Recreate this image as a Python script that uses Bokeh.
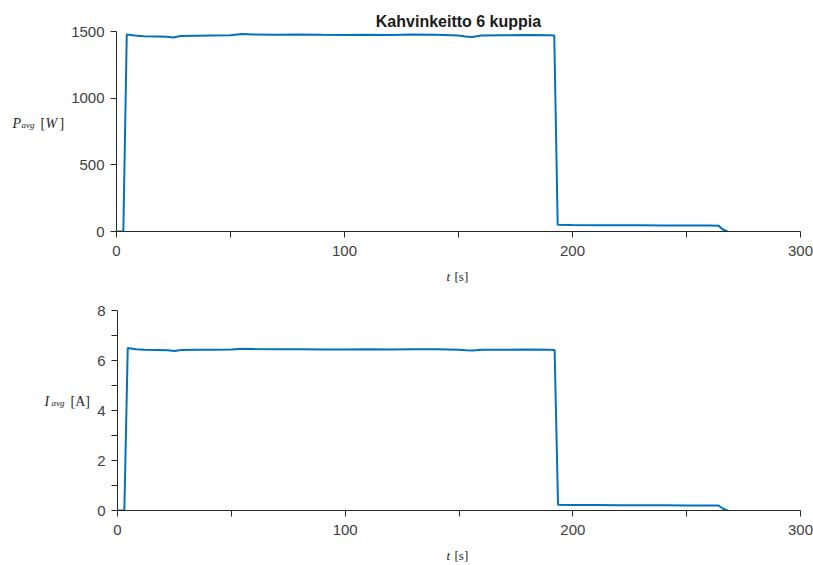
from bokeh.plotting import figure
from bokeh.models import Range1d, FixedTicker
from bokeh.layouts import column, row
from bokeh.core.properties import value
from bokeh.embed import file_html
from bokeh.resources import INLINE

# ---- data ----
t = [0, 3, 4.5, 8, 12, 18, 22, 25, 28, 35, 42, 50, 55, 60, 70, 80, 90, 100,
     110, 120, 130, 140, 150, 153, 156, 160, 170, 180, 190, 192, 193.5, 200,
     210, 220, 230, 240, 250, 260, 264, 266, 268]
P_avg = [0, 0, 1478, 1470, 1465, 1462, 1460, 1455, 1466, 1468, 1470, 1472,
         1482, 1478, 1476, 1478, 1475, 1474, 1476, 1474, 1477, 1476, 1470,
         1462, 1458, 1470, 1472, 1474, 1472, 1470, 50, 48, 47, 46, 46, 45,
         45, 45, 44, 15, 0]
I_avg = [0, 0, 6.50, 6.45, 6.43, 6.42, 6.41, 6.38, 6.42, 6.43, 6.43, 6.44,
         6.47, 6.46, 6.45, 6.45, 6.44, 6.44, 6.45, 6.44, 6.45, 6.45, 6.43,
         6.41, 6.40, 6.43, 6.43, 6.44, 6.43, 6.42, 0.23, 0.22, 0.22, 0.21,
         0.21, 0.21, 0.20, 0.20, 0.20, 0.07, 0]

x_ticks = [0, 100, 200, 300]
x_minor = [50, 150, 250]
p_ticks = [0, 500, 1000, 1500]
i_ticks = [0, 2, 4, 6, 8]
i_minor = [1, 3, 5, 7]

title_text = "Kahvinkeitto 6 kuppia"
BLUE = "#0072BD"
AX = "#262626"
TOTAL_W = 813
FRAME_LEFT = 116
FRAME_W = 684


def make_fig(left_w, height, top, bottom, ymax, yticks, yminor):
    w = TOTAL_W - left_w
    border_left = FRAME_LEFT - left_w
    p = figure(width=w, height=height, output_backend="svg", toolbar_location=None,
               x_range=Range1d(0, 300), y_range=Range1d(0, ymax),
               min_border_left=border_left, min_border_right=w - border_left - FRAME_W,
               min_border_top=top, min_border_bottom=bottom)
    p.outline_line_color = None
    p.xgrid.visible = False
    p.ygrid.visible = False
    p.xaxis.ticker = FixedTicker(ticks=x_ticks, minor_ticks=x_minor)
    p.yaxis.ticker = FixedTicker(ticks=yticks, minor_ticks=yminor)
    for ax in (p.xaxis[0], p.yaxis[0]):
        ax.axis_line_color = AX
        ax.major_tick_line_color = AX
        ax.minor_tick_line_color = AX
        ax.major_tick_in = 0
        ax.major_tick_out = 6
        ax.minor_tick_in = 0
        ax.minor_tick_out = 6
        ax.major_label_text_font = "Liberation Sans"
        ax.major_label_text_font_size = "15px"
        ax.major_label_text_color = "#404040"
    p.xaxis.major_label_standoff = 8
    p.yaxis.major_label_standoff = 6
    return p


def text_fig(width, height):
    f = figure(width=width, height=height, output_backend="svg", toolbar_location=None,
               x_range=Range1d(0, width), y_range=Range1d(0, height),
               x_axis_type=None, y_axis_type=None, min_border=0)
    f.outline_line_color = None
    f.xgrid.visible = False
    f.ygrid.visible = False
    return f


def put(f, x, y, txt, size="14px", style="italic"):
    f.text(x=[x], y=[y], text=[txt], text_font=value("Liberation Serif"),
           text_font_size=size, text_font_style=style, text_color=AX,
           text_align="left", text_baseline="alphabetic")


# ---------------- top panel ----------------
H1 = 262
L1 = 68
lab1 = text_fig(L1, H1)
base1 = H1 - 121
put(lab1, 12, base1, "P")
put(lab1, 21, base1 - 2, "avg", size="9px")
put(lab1, 40, base1, "[", style="normal")
put(lab1, 45, base1, "W")
put(lab1, 59, base1, "]", style="normal")

p1 = make_fig(L1, H1, 31, 31, 1500, p_ticks, [])
p1.line(t, P_avg, line_color=BLUE, line_width=2)
p1.title.text = title_text
p1.title.align = "center"
p1.title.text_font = "Liberation Sans"
p1.title.text_font_size = "16px"
p1.title.text_font_style = "bold"
p1.title.text_color = "#1a1a1a"
p1.title.standoff = 3

xs1 = text_fig(TOTAL_W, 22)
put(xs1, 446, 8, "t", size="13px")
put(xs1, 454, 8, "[s]", size="13px", style="normal")

# ---------------- bottom panel ----------------
H2 = 256
L2 = 94
lab2 = text_fig(L2, H2)
base2 = H2 - (401 - 284)
put(lab2, 44, base2, "I")
put(lab2, 51, base2 - 2, "avg", size="9px")
put(lab2, 70, base2, "[A]", style="normal")

p2 = make_fig(L2, H2, 26, 30, 8, i_ticks, i_minor)
p2.line(t, I_avg, line_color=BLUE, line_width=2)

xs2 = text_fig(TOTAL_W, 22)
put(xs2, 446, 7, "t", size="13px")
put(xs2, 454, 7, "[s]", size="13px", style="normal")

layout = column(row(lab1, p1, spacing=0), xs1,
                row(lab2, p2, spacing=0), xs2, spacing=0)
open("out.html", "w").write(file_html(layout, INLINE))
